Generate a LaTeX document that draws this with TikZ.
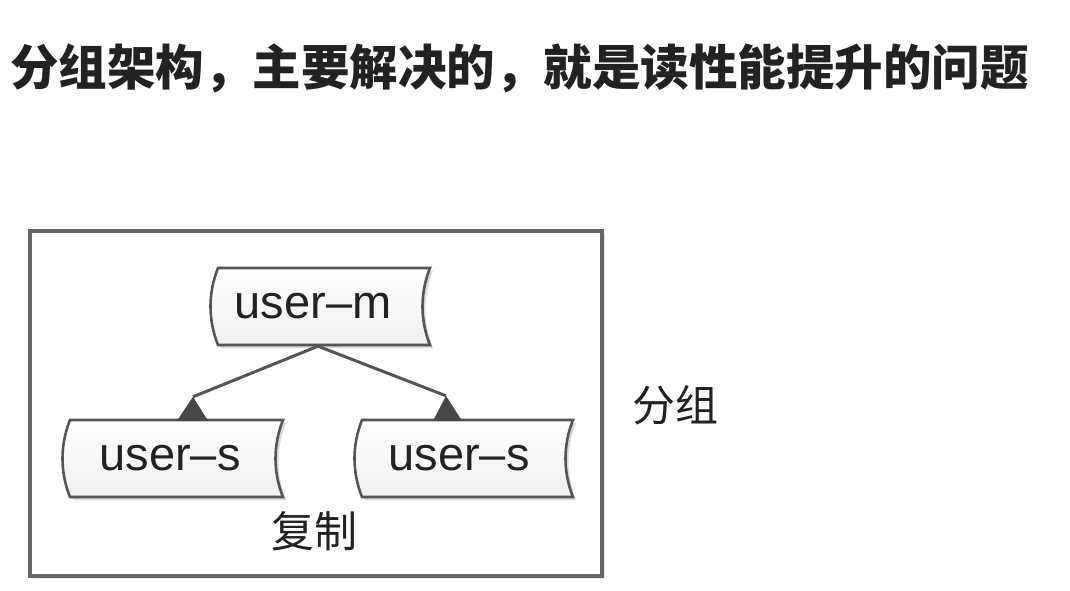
\documentclass[tikz,border=0pt]{standalone}
\usepackage{fontspec}
\setsansfont{Liberation Sans}
\newfontfamily\cjk{Noto Sans CJK SC}
\usetikzlibrary{calc}
\definecolor{edgec}{HTML}{555555}
\definecolor{txtc}{HTML}{222222}
\definecolor{framec}{HTML}{666666}
\newcommand\tapepath[4]{($(#1.center)+(#2,-#4)$) .. controls +(-10,25) and +(-10,-25) .. ($(#1.center)+(#2,#4)$) -- ($(#1.center)+(#3,#4)$) .. controls +(-10,-25) and +(-10,25) .. ($(#1.center)+(#3,-#4)$) -- cycle}
\begin{document}
\begin{tikzpicture}[x=1pt,y=-1pt,
  tapetext/.style={inner sep=0pt,minimum height=77pt,font=\sffamily\fontsize{47}{50}\selectfont,text=txtc},
  tapeline/.style={draw=edgec,line width=2.6pt,top color=white,bottom color=gray!12},
  tapeshadow/.style={fill=gray!30,transform canvas={shift={(3pt,-3pt)}}},
  conn/.style={draw=edgec,line width=3pt},
  tip/.style={fill=black!72},
  cjklabel/.style={inner sep=0pt,font=\cjk\fontsize{43}{48}\selectfont,text=txtc}]
\useasboundingbox (0,0) rectangle (1070,590);
\fill[white] (0,0) rectangle (1070,590);
% title
\node[anchor=west,inner sep=0pt,font=\cjk\bfseries\fontsize{48.5}{54}\selectfont,text=txtc] (title) at (10,68) {分组架构，主要解决的，就是读性能提升的问题};
% frame
\fill[gray!20] (33,234) rectangle (605,579);
\node[draw=framec,line width=3.2pt,fill=white,minimum width=572pt,minimum height=345pt,inner sep=0pt] (frame) at (316,403.5) {};
% nodes
\node[tapetext] (m) at (313,306.5) {\phantom{user–m}};
\node[tapetext] (s1) at (170,458.5) {\phantom{user–s}};
\node[tapetext] (s2) at (459,458.5) {\phantom{user–s}};
\path[tapeshadow] \tapepath{m}{-95}{117}{38.5};
\path[tapeshadow] \tapepath{s1}{-100}{113}{38.5};
\path[tapeshadow] \tapepath{s2}{-97}{114}{38.5};
\path[tapeline] \tapepath{m}{-95}{117}{38.5};
\path[tapeline] \tapepath{s1}{-100}{113}{38.5};
\path[tapeline] \tapepath{s2}{-97}{114}{38.5};
\node[tapetext] at (m) {user–m};
\node[tapetext] at (s1) {user–s};
\node[tapetext] at (s2) {user–s};
% connectors
\coordinate (a1) at ($(s1.north)+(23,-23)$);
\coordinate (a2) at ($(s2.north)+(-13,-24)$);
\draw[conn] ($(m.south)+(5,1)$) -- (a1);
\draw[conn] ($(m.south)+(5,1)$) -- (a2);
\fill[tip] (a1) -- ($(s1.north)+(7,1)$) -- ($(s1.north)+(38,1)$) -- cycle;
\fill[tip] (a2) -- ($(s2.north)+(-26,1)$) -- ($(s2.north)+(3,1)$) -- cycle;
% labels
\node[cjklabel] (copy) at (314,531) {复制};
\node[cjklabel] (group) at (675,405) {分组};
\end{tikzpicture}
\end{document}
